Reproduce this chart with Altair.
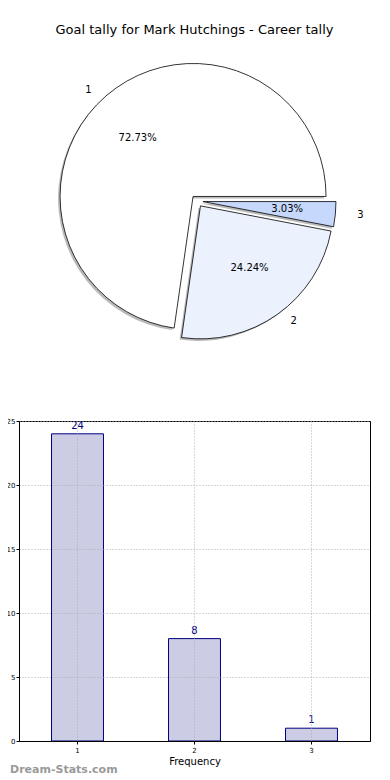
import altair as alt
import pandas as pd

# ---- data ----
categories = ["1", "2", "3"]
counts = [24, 8, 1]
slice_colors = ["#ffffff", "#ebf1fd", "#c6d9fd"]
title_text = "Goal tally for Mark Hutchings - Career tally"
y_ticks = [0, 5, 10, 15, 20, 25]
x_title = "Frequency"
watermark = "Dream-Stats.com"

df = pd.DataFrame({"cat": categories, "count": counts})

# ---- layout / style constants ----
PIE_W, PIE_H = 351, 300
CX, CY = 178, 150          # pie centre in the pie view
RX, RY = 141, 128          # label placement radii (ellipse as in reference)
R = 133                    # arc radius
EXPLODE = 6
BAR_W, BAR_H = 351, 320
FONT = "DejaVu Sans"

base = (
    alt.Chart(df)
    .transform_window(cum="sum(count)", sort=[alt.SortField("cat")], frame=[None, 0])
    .transform_joinaggregate(total="sum(count)")
    .transform_calculate(
        a_end="2*PI*datum.cum/datum.total",
        a_start="2*PI*(datum.cum - datum.count)/datum.total",
        pct="datum.count/datum.total",
    )
    .transform_calculate(
        mid="(datum.a_start + datum.a_end)/2",
        th1="PI/2 - datum.a_end",
        th2="PI/2 - datum.a_start",
    )
    .transform_calculate(
        cx=f"{CX} + {EXPLODE}*cos(datum.mid)",
        cy=f"{CY} - {EXPLODE}*sin(datum.mid)",
    )
    .transform_calculate(
        sx="datum.cx - 2",
        sy="datum.cy + 2",
        lx=f"datum.cx + 1.1*{RX}*cos(datum.mid)",
        ly=f"datum.cy - 1.1*{RY}*sin(datum.mid)",
        px=f"datum.cx + 0.6*{RX}*cos(datum.mid)",
        py=f"datum.cy - 0.6*{RY}*sin(datum.mid)",
        side="cos(datum.mid) < 0 ? 'L' : 'R'",
    )
)

shadow = base.mark_arc(outerRadius=R, fill="#8c8c8c", opacity=0.6).encode(
    theta=alt.Theta("th1:Q", scale=None),
    theta2="th2:Q",
    x=alt.X("sx:Q", scale=None, axis=None),
    y=alt.Y("sy:Q", scale=None, axis=None),
)

arcs = base.mark_arc(outerRadius=R, stroke="black", strokeWidth=0.8).encode(
    theta=alt.Theta("th1:Q", scale=None),
    theta2="th2:Q",
    x=alt.X("cx:Q", scale=None, axis=None),
    y=alt.Y("cy:Q", scale=None, axis=None),
    fill=alt.Fill("cat:N", scale=alt.Scale(domain=categories, range=slice_colors), legend=None),
)

lab_left = base.transform_filter("datum.side == 'L'").mark_text(
    align="right", baseline="middle", font=FONT, fontSize=10, color="black"
).encode(x=alt.X("lx:Q", scale=None), y=alt.Y("ly:Q", scale=None), text="cat:N")

lab_right = base.transform_filter("datum.side == 'R'").mark_text(
    align="left", baseline="middle", font=FONT, fontSize=10, color="black"
).encode(x=alt.X("lx:Q", scale=None), y=alt.Y("ly:Q", scale=None), text="cat:N")

pct = base.mark_text(align="center", baseline="middle", font=FONT, fontSize=10, color="black").encode(
    x=alt.X("px:Q", scale=None),
    y=alt.Y("py:Q", scale=None),
    text=alt.Text("pct:Q", format=".2%"),
)

pie = alt.layer(shadow, arcs, lab_left, lab_right, pct).properties(
    width=PIE_W,
    height=PIE_H,
    view=alt.ViewBackground(stroke="transparent"),
    title=alt.TitleParams(title_text, font=FONT, fontSize=13, fontWeight="normal",
                          color="black", anchor="middle", offset=14),
)

bars = alt.Chart(df).mark_bar(fill="#ccccE5", stroke="#000080", strokeWidth=1).encode(
    x=alt.X(
        "cat:N",
        sort=categories,
        scale=alt.Scale(paddingInner=0.556, paddingOuter=0.278),
        axis=alt.Axis(title=x_title, labelAngle=0, grid=True, bandPosition=0.5,
                      gridDash=[1, 2], gridColor="#aaaaaa", gridOpacity=0.9, zindex=1,
                      labelFontSize=7, labelFont=FONT, titleFont=FONT, titleFontSize=10,
                      titleFontWeight="normal", titlePadding=3, tickSize=3, labelPadding=2,
                      domainColor="black", tickColor="black", labelColor="black",
                      titleColor="black"),
    ),
    y=alt.Y(
        "count:Q",
        scale=alt.Scale(domain=[0, 25], nice=False),
        axis=alt.Axis(title=None, values=y_ticks, grid=True, gridDash=[1, 2],
                      gridColor="#aaaaaa", gridOpacity=0.9, zindex=1,
                      labelFontSize=7, labelFont=FONT, tickSize=3, labelPadding=1,
                      domainColor="black", tickColor="black", labelColor="black"),
    ),
)

bar_text = alt.Chart(df).mark_text(
    baseline="bottom", dy=-3, font=FONT, fontSize=10, color="#000080"
).encode(x=alt.X("cat:N", sort=categories), y="count:Q", text="count:Q")

wm = alt.Chart(pd.DataFrame({"t": [watermark]})).mark_text(
    align="left", baseline="middle", font=FONT, fontSize=11, fontWeight="bold", color="#9a9a9a"
).encode(text="t:N", x=alt.value(-9), y=alt.value(BAR_H + 29))

bar_chart = alt.layer(bars, bar_text, wm).properties(
    width=BAR_W, height=BAR_H,
    view=alt.ViewBackground(stroke="black", strokeWidth=1),
)

chart = (
    alt.vconcat(pie, bar_chart, spacing=64)
    .properties(padding={"left": -3, "top": 15, "right": 0, "bottom": 0})
    .configure(background="white")
)

chart.save("out.html", embed_options={"renderer": "svg", "actions": False})
